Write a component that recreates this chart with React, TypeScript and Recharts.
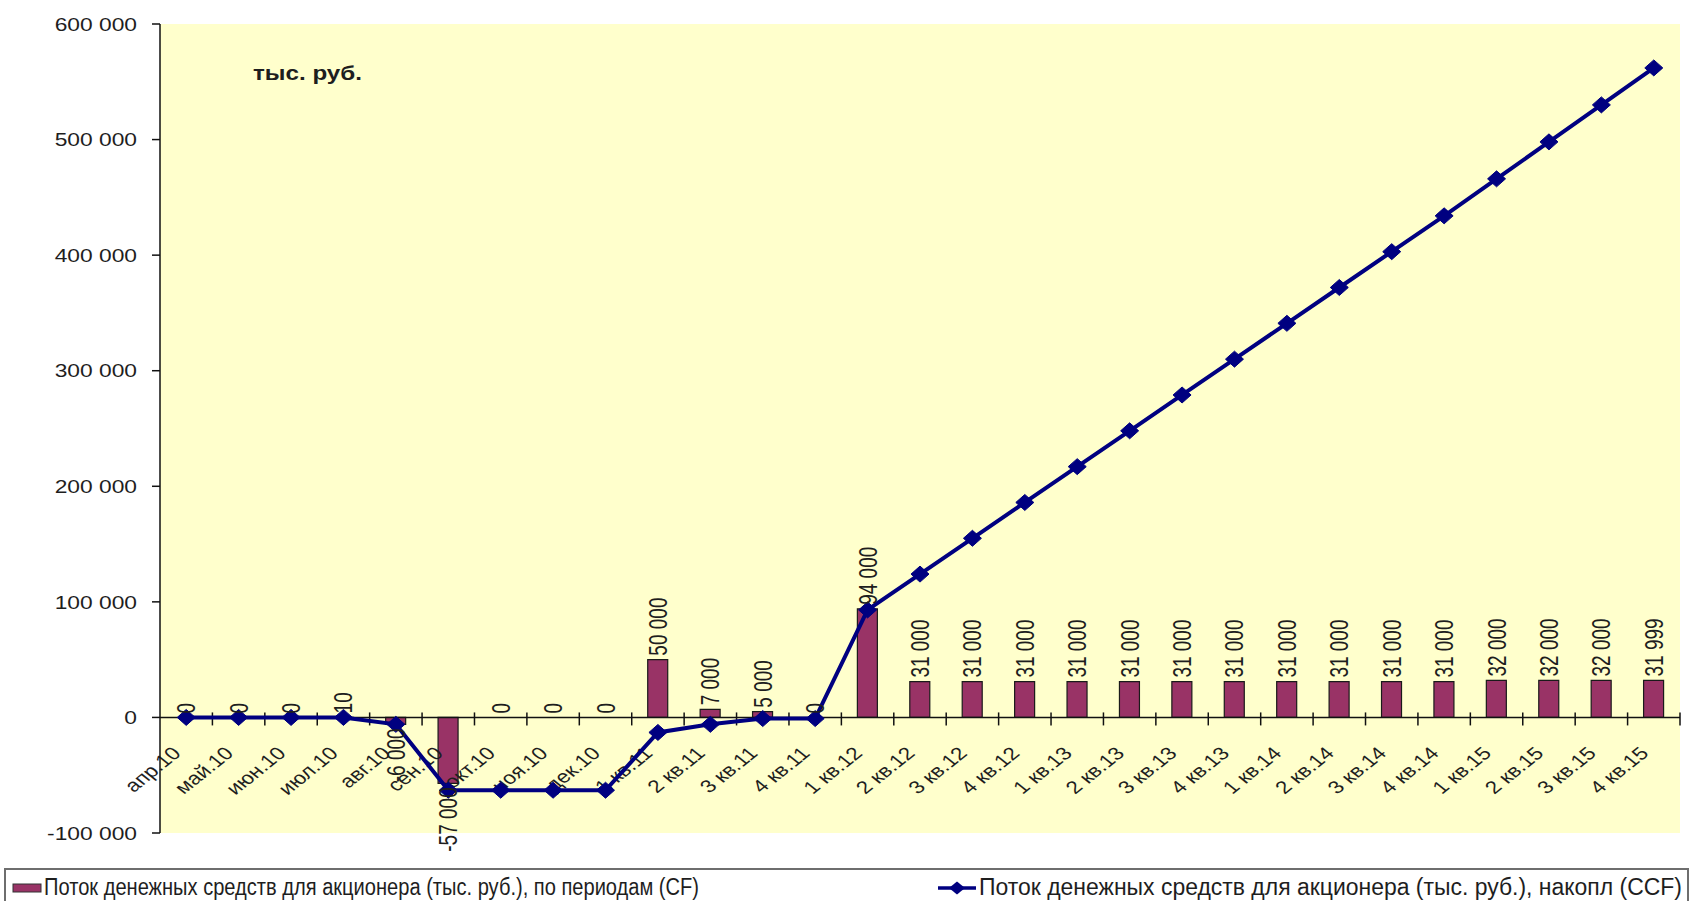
import React from 'react';
import {
  ComposedChart, Bar, Line, XAxis, YAxis, CartesianGrid, ReferenceLine, LabelList,
} from 'recharts';

const categories = [
  'апр.10', 'май.10', 'июн.10', 'июл.10', 'авг.10', 'сен.10', 'окт.10', 'ноя.10', 'дек.10',
  '1 кв.11', '2 кв.11', '3 кв.11', '4 кв.11',
  '1 кв.12', '2 кв.12', '3 кв.12', '4 кв.12',
  '1 кв.13', '2 кв.13', '3 кв.13', '4 кв.13',
  '1 кв.14', '2 кв.14', '3 кв.14', '4 кв.14',
  '1 кв.15', '2 кв.15', '3 кв.15', '4 кв.15',
];

// поток по периодам (CF)
const cfValues = [
  0, 0, 0, 10, -6000, -57000, 0, 0, 0,
  50000, 7000, 5000, 0,
  94000, 31000, 31000, 31000,
  31000, 31000, 31000, 31000,
  31000, 31000, 31000, 31000,
  32000, 32000, 32000, 31999,
];

// накопленный поток (CCF)
const ccfValues = [
  0, 0, 0, 10, -5990, -62990, -62990, -62990, -62990,
  -12990, -5990, -990, -990,
  93010, 124010, 155010, 186010,
  217010, 248010, 279010, 310010,
  341010, 372010, 403010, 434010,
  466010, 498010, 530010, 562009,
];

const yTicks = [-100000, 0, 100000, 200000, 300000, 400000, 500000, 600000];

const legendCF = 'Поток денежных средств для акционера (тыс. руб.),  по периодам (CF)';
const legendCCF = 'Поток денежных средств для акционера (тыс. руб.),  накопл (CCF)';

const data = categories.map((name, i) => ({ name, cf: cfValues[i], ccf: ccfValues[i] }));

const FONT = "'Liberation Sans', Arial, sans-serif";
const TXT = '#1e1e1e';
const BAR = '#993366';
const NAVY = '#000080';
const SX = 1.2; // text in the picture is stretched horizontally

const fmt = (v: number) => {
  const s = Math.abs(v).toString().replace(/\B(?=(\d{3})+(?!\d))/g, ' ');
  return v < 0 ? `-${s}` : s;
};

const YTick = (props: any) => {
  const { x, y, payload } = props;
  return (
    <g transform={`translate(${x},${y}) scale(${SX},1)`}>
      <text textAnchor="end" dy="0.35em" fontSize={19} fill={TXT} fontFamily={FONT}>
        {fmt(payload.value)}
      </text>
    </g>
  );
};

// value labels, vertical, above positive and below negative bars
const BarValue = (props: any) => {
  const { x, y, value } = props;
  if (x == null || y == null || value == null) return null;
  const neg = value < 0;
  const ay = neg ? y + 4 : y - 4;
  return (
    <g transform={`translate(${x},${ay}) scale(1.35,1) rotate(-90)`}>
      <text textAnchor={neg ? 'end' : 'start'} dy="0.35em" fontSize={19} fill={TXT} fontFamily={FONT}>
        {fmt(value)}
      </text>
    </g>
  );
};

const Diamond = (props: any) => {
  const { cx, cy } = props;
  if (cx == null || cy == null) return null;
  return (
    <polygon
      points={`${cx},${cy - 8} ${cx + 9},${cy} ${cx},${cy + 8} ${cx - 9},${cy}`}
      fill={NAVY}
      stroke={NAVY}
    />
  );
};

// category axis that crosses at zero
const ZeroAxis = (props: any) => {
  const vb = props.viewBox;
  if (!vb) return null;
  const n = categories.length;
  const step = vb.width / n;
  return (
    <g>
      <line x1={vb.x} x2={vb.x + vb.width} y1={vb.y} y2={vb.y} stroke="#111" strokeWidth={1.5} />
      {categories.map((c, i) => (
        <line key={`t${i}`} x1={vb.x + (i + 1) * step} x2={vb.x + (i + 1) * step}
          y1={vb.y - 5} y2={vb.y + 8} stroke="#111" strokeWidth={1.5} />
      ))}
      {categories.map((c, i) => {
        const cx = vb.x + (i + 0.5) * step;
        return (
          <g key={`l${i}`} transform={`translate(${cx - 4},${vb.y + 37}) scale(1.25,1) rotate(-45)`}>
            <text textAnchor="end" fontSize={18} fill={TXT} fontFamily={FONT}>{c}</text>
          </g>
        );
      })}
    </g>
  );
};

export default function App() {
  return (
    <div style={{ position: 'absolute', left: 0, top: 0, width: 1691, height: 901, background: '#fff', overflow: 'hidden' }}>
      <ComposedChart width={1691} height={901} data={data}
        margin={{ top: 24, right: 11, bottom: 68, left: 0 }}>
        <CartesianGrid fill="#FFFFCC" horizontal={false} vertical={false} />
        <XAxis dataKey="name" height={0} tick={false} tickLine={false}
          axisLine={{ stroke: '#8c8c8c', strokeWidth: 1.5 }} />
        <XAxis xAxisId="top" orientation="top" dataKey="name" height={0} tick={false} tickLine={false}
          axisLine={{ stroke: '#8c8c8c', strokeWidth: 1.5 }} />
        <YAxis width={160} domain={[-100000, 600000]} ticks={yTicks} interval={0}
          tick={<YTick />} tickSize={8} tickMargin={15}
          axisLine={{ stroke: '#111', strokeWidth: 1.5 }} tickLine={{ stroke: '#111', strokeWidth: 1.5 }} />
        <YAxis yAxisId="right" orientation="right" width={0} tick={false} tickLine={false}
          axisLine={{ stroke: '#8c8c8c', strokeWidth: 1.5 }} />
        <Bar dataKey="cf" fill={BAR} stroke="#1a1a1a" strokeWidth={1.2} barSize={20} isAnimationActive={false} />
        <ReferenceLine y={0} stroke="none" label={(p: any) => <ZeroAxis {...p} />} ifOverflow="visible" />
        <Line type="linear" dataKey="cf" stroke="none" dot={false} activeDot={false} isAnimationActive={false}>
          <LabelList dataKey="cf" content={<BarValue />} />
        </Line>
        <Line type="linear" dataKey="ccf" stroke={NAVY} strokeWidth={4} dot={<Diamond />}
          activeDot={false} isAnimationActive={false} />
      </ComposedChart>
      <svg width={1691} height={901} style={{ position: 'absolute', left: 0, top: 0, pointerEvents: 'none' }}>
        <text x={253} y={80} fontSize={20} fontWeight="bold" fill={TXT} fontFamily={FONT}
          textLength={109} lengthAdjust="spacingAndGlyphs">тыс. руб.</text>
        <rect x={5} y={869} width={1683} height={60} fill="#fff" stroke="#6e6e6e" strokeWidth={2} />
        <rect x={13} y={884} width={28} height={8} fill={BAR} stroke="#333" strokeWidth={1} />
        <text x={44} y={895} fontSize={23} fill={TXT} fontFamily={FONT}
          textLength={655} lengthAdjust="spacingAndGlyphs">{legendCF}</text>
        <line x1={938} x2={976} y1={888} y2={888} stroke={NAVY} strokeWidth={3.5} />
        <polygon points="957,881.5 965,888 957,894.5 949,888" fill={NAVY} />
        <text x={979} y={895} fontSize={23} fill={TXT} fontFamily={FONT}
          textLength={703} lengthAdjust="spacingAndGlyphs">{legendCCF}</text>
      </svg>
    </div>
  );
}
